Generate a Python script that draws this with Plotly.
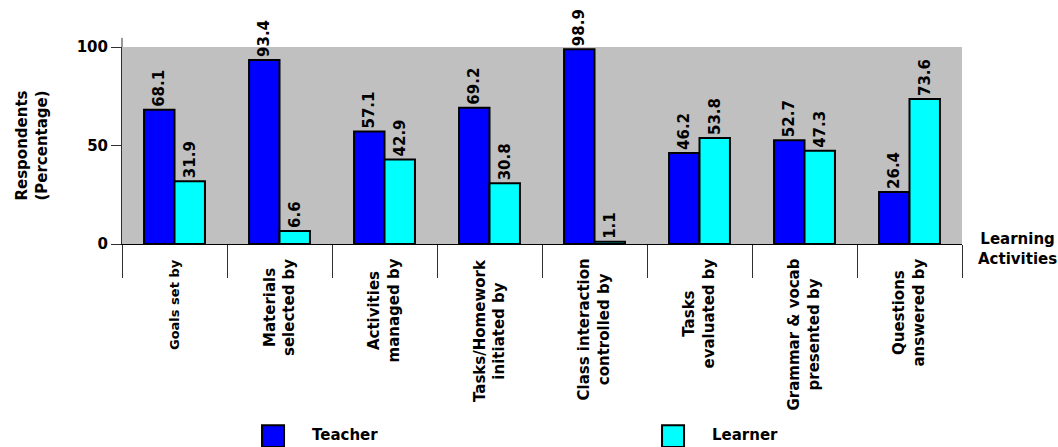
import plotly.graph_objects as go

categories = [
    "Goals set by",
    "Materials<br>selected by",
    "Activities<br>managed by",
    "Tasks/Homework<br>initiated by",
    "Class interaction<br>controlled by",
    "Tasks<br>evaluated by",
    "Grammar & vocab<br>presented by",
    "Questions<br>answered by",
]
label_sizes = [13, 15, 15, 15, 15, 15, 15, 15]
teacher = [68.1, 93.4, 57.1, 69.2, 98.9, 46.2, 52.7, 26.4]
learner = [31.9, 6.6, 42.9, 30.8, 1.1, 53.8, 47.3, 73.6]
y_ticks = [0, 50, 100]
series = [("Teacher", teacher, "#0000FF"), ("Learner", learner, "#00FFFF")]

FONT = "Verdana, DejaVu Sans, sans-serif"
lab_font = dict(family=FONT, size=15, color="black", weight="bold")

fig = go.Figure()
for name, vals, col in series:
    fig.add_trace(go.Bar(
        name=name, x=categories, y=vals,
        marker=dict(color=col, line=dict(color="black", width=2)),
        text=[f"{v:.1f}" for v in vals],
        textposition="outside", textangle=-90,
        textfont=lab_font, cliponaxis=False, constraintext="none",
        showlegend=False,
    ))

# category labels (rotated, centered lines)
annotations = []
for cat, sz in zip(categories, label_sizes):
    annotations.append(dict(text=cat, x=cat, xref="x", yref="paper", y=-0.066,
                            xanchor="center", yanchor="top", textangle=-90,
                            showarrow=False, align="center",
                            font=dict(family=FONT, size=sz, color="black", weight="bold")))
annotations.append(dict(text="Learning<br>Activities", xref="paper", yref="paper",
                        x=1.0655, y=-0.025, xanchor="center", yanchor="middle",
                        showarrow=False, align="center", font=lab_font))

# legend drawn at bottom
shapes = [dict(type="line", xref="paper", yref="paper", x0=0, x1=0, y0=1, y1=1.046,
               line=dict(color="#303030", width=1))]
leg_x = [0.1667, 0.6429]
for (name, vals, col), lx in zip(series, leg_x):
    shapes.append(dict(type="rect", xref="paper", yref="paper",
                       x0=lx, x1=lx + 0.0262, y0=-0.92, y1=-1.03,
                       fillcolor=col, line=dict(color="black", width=2)))
    annotations.append(dict(text=name, xref="paper", yref="paper", x=lx + 0.0571, y=-0.97,
                            xanchor="left", yanchor="middle", showarrow=False, font=lab_font))

fig.update_layout(
    width=1058, height=447,
    margin=dict(l=122, r=96, t=47, b=203, autoexpand=False),
    paper_bgcolor="white", plot_bgcolor="#C0C0C0",
    barmode="group", bargap=0.42, bargroupgap=0,
    font=dict(family=FONT, size=15, color="black", weight="bold"),
    showlegend=False,
    xaxis=dict(type="category", showgrid=False, showline=True, linecolor="black", linewidth=1,
               ticks="outside", tickson="boundaries", ticklen=33, tickcolor="#303030",
               showticklabels=False, automargin=False),
    yaxis=dict(range=[0, 100], tickvals=y_ticks, showgrid=False, zeroline=False,
               showline=True, linecolor="#303030", linewidth=1,
               ticks="outside", ticklen=10, tickcolor="#303030", tickfont=lab_font,
               title=dict(text="Respondents<br>(Percentage)", font=lab_font, standoff=25),
               automargin=False),
    shapes=shapes,
    annotations=annotations,
)

fig.write_html("out.html")
